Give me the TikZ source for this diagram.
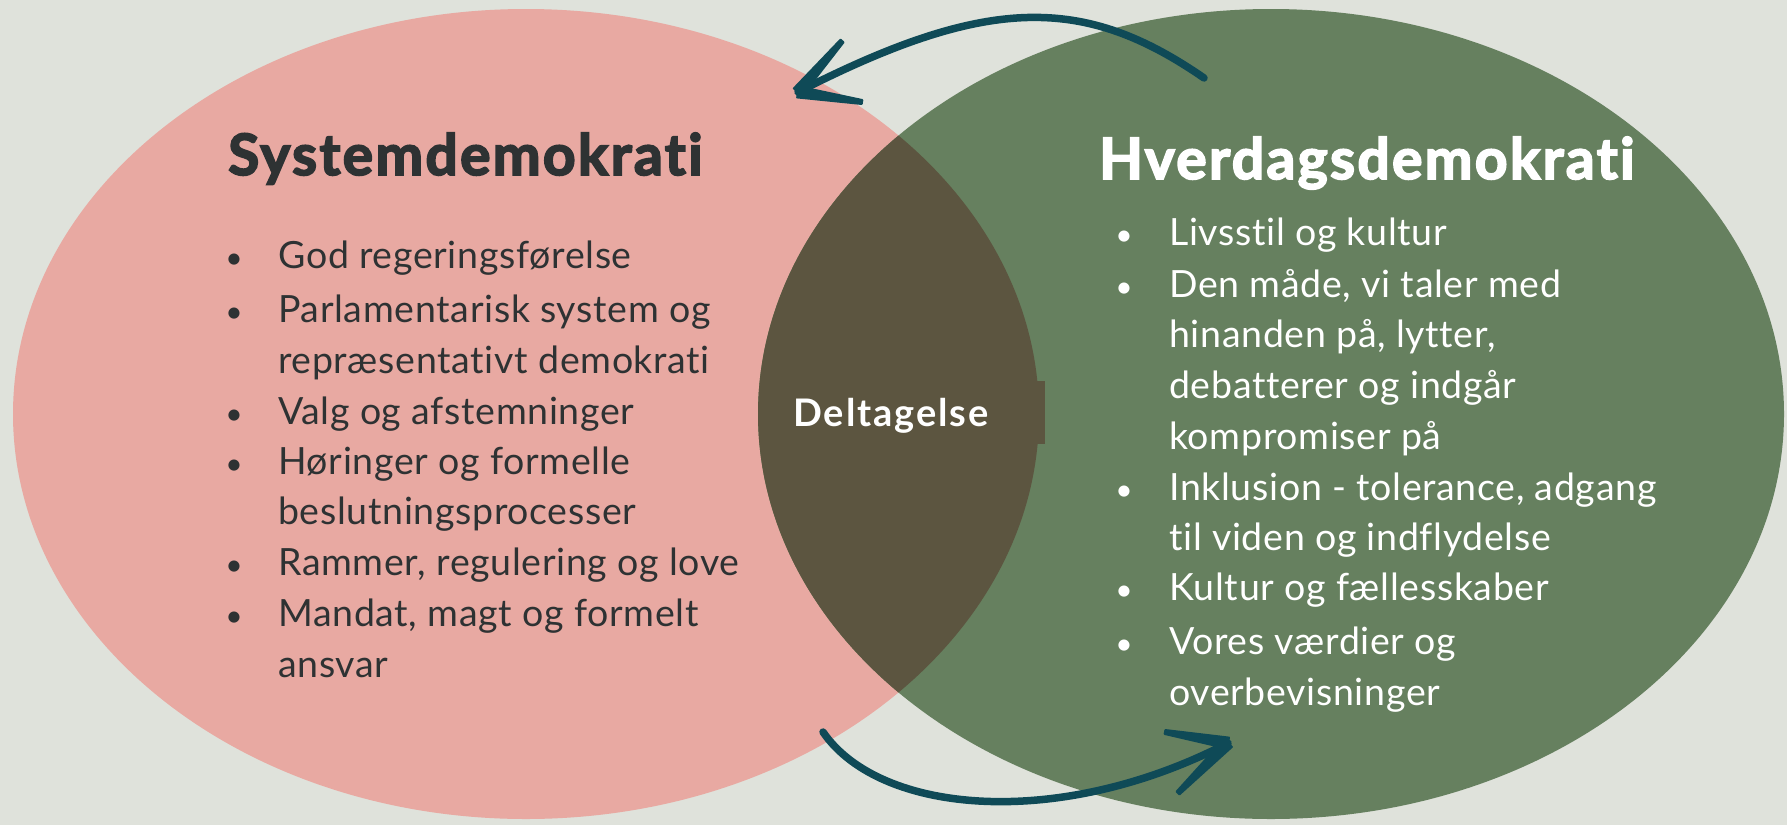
\documentclass[tikz,border=0pt]{standalone}
\usepackage{fontspec}
\usetikzlibrary{calc}
\setmainfont{Lato}[Ligatures=NoCommon]
\newfontfamily\bodyfont{Lato}[LetterSpace=1.8, Ligatures=NoCommon]
\newfontfamily\deltfont{Lato}[LetterSpace=5, Ligatures=NoCommon]
\newfontfamily\titlefont{Lato}[LetterSpace=4, Ligatures=NoCommon, BoldFeatures={FakeBold=3}]
\definecolor{bgc}{HTML}{DFE2DB}
\definecolor{pinkc}{HTML}{E8A9A2}
\definecolor{greenc}{HTML}{66805F}
\definecolor{overlapc}{HTML}{5C5540}
\definecolor{arrowc}{HTML}{0F4A57}
\definecolor{txtdark}{HTML}{2E3233}
\begin{document}
\begin{tikzpicture}[x=1pt,y=-1pt,
  titlestyle/.style={anchor=base west, inner sep=0pt, font=\titlefont\fontsize{57}{60}\selectfont\bfseries},
  itemL/.style={anchor=base west, inner sep=0pt, font=\bodyfont\fontsize{37.5}{42}\selectfont, text=txtdark},
  itemR/.style={anchor=base west, inner sep=0pt, font=\bodyfont\fontsize{37.5}{42}\selectfont, text=white},
  bulL/.style={anchor=base, inner sep=0pt, font=\fontsize{30}{36}\selectfont, text=txtdark},
  bulR/.style={anchor=base, inner sep=0pt, font=\fontsize{30}{36}\selectfont, text=white},
  arrowline/.style={draw=arrowc, line width=7.5pt, line cap=round, line join=round},
  barb/.style={fill=arrowc, draw=arrowc, line width=2pt, line join=round},
]
\useasboundingbox (0,0) rectangle (1787,825);
\fill[bgc] (0,0) rectangle (1787,825);
% circles
\fill[pinkc] (526,414) ellipse [x radius=513pt, y radius=405pt];
\fill[greenc] (1271,414) ellipse [x radius=513pt, y radius=405pt];
\begin{scope}
  \clip (526,414) ellipse [x radius=513pt, y radius=405pt];
  \fill[overlapc] (1271,414) ellipse [x radius=513pt, y radius=405pt];
\end{scope}
\fill[overlapc] (1030,381) rectangle (1045,444);
% titles
\node[titlestyle, text=txtdark] (tsys) at (228,175) {Systemdemokrati};
\node[titlestyle, text=white] (thv) at (1099,179) {Hverdagsdemokrati};
\node[anchor=base, inner sep=0pt, text=white, font=\deltfont\fontsize{38}{42}\selectfont\bfseries] (delt) at (891,426) {Deltagelse};
% left list
\node[bulL] (lb1) at (234,268) {•};
\node[itemL] (l1) at (278,268) {God regeringsførelse};
\node[bulL] (lb2) at (234,322) {•};
\node[itemL] (l2) at (278,322) {Parlamentarisk system og};
\node[itemL] (l3) at (278,373) {repræsentativt demokrati};
\node[bulL] (lb3) at (234,424) {•};
\node[itemL] (l4) at (278,424) {Valg og afstemninger};
\node[bulL] (lb4) at (234,474) {•};
\node[itemL] (l5) at (278,474) {Høringer og formelle};
\node[itemL] (l6) at (278,524) {beslutningsprocesser};
\node[bulL] (lb5) at (234,575) {•};
\node[itemL] (l7) at (278,575) {Rammer, regulering og love};
\node[bulL] (lb6) at (234,626) {•};
\node[itemL] (l8) at (278,626) {Mandat, magt og formelt};
\node[itemL] (l9) at (278,677) {ansvar};
% right list
\node[bulR] (rb1) at (1124,245) {•};
\node[itemR] (r1) at (1169,245) {Livsstil og kultur};
\node[bulR] (rb2) at (1124,297) {•};
\node[itemR] (r2) at (1169,297) {Den måde, vi taler med};
\node[itemR] (r3) at (1169,347) {hinanden på, lytter,};
\node[itemR] (r4) at (1169,398) {debatterer og indgår};
\node[itemR] (r5) at (1169,449) {kompromiser på};
\node[bulR] (rb3) at (1124,500) {•};
\node[itemR] (r6) at (1169,500) {Inklusion - tolerance, adgang};
\node[itemR] (r7) at (1169,550) {til viden og indflydelse};
\node[bulR] (rb4) at (1124,600) {•};
\node[itemR] (r8) at (1169,600) {Kultur og fællesskaber};
\node[bulR] (rb5) at (1124,654) {•};
\node[itemR] (r9) at (1169,654) {Vores værdier og};
\node[itemR] (r10) at (1169,705) {overbevisninger};
% top arrow
\coordinate (ta0) at (1204,78);
\coordinate (tac1) at (1084,-5);
\coordinate (tac2) at (988,-5);
\coordinate (tatip) at (798,92);
\coordinate (tab1) at (842,41);
\coordinate (tab2) at (862,102);
\draw[arrowline] (ta0) .. controls (tac1) and (tac2) .. (tatip);
\fill[barb] ($(tatip)!5.5pt!90:(tab1)$) -- ($(tab1)!2pt!-90:(tatip)$) -- ($(tab1)!2pt!90:(tatip)$) -- ($(tatip)!5.5pt!-90:(tab1)$) -- cycle;
\fill[barb] ($(tatip)!5.5pt!90:(tab2)$) -- ($(tab2)!2pt!-90:(tatip)$) -- ($(tab2)!2pt!90:(tatip)$) -- ($(tatip)!5.5pt!-90:(tab2)$) -- cycle;
% bottom arrow
\coordinate (ba0) at (823,732);
\coordinate (bac1) at (880,815);
\coordinate (bac2) at (1060,830);
\coordinate (batip) at (1228,743);
\coordinate (bab1) at (1165,732);
\coordinate (bab2) at (1178,793);
\draw[arrowline] (ba0) .. controls (bac1) and (bac2) .. (batip);
\fill[barb] ($(batip)!5.5pt!90:(bab1)$) -- ($(bab1)!2pt!-90:(batip)$) -- ($(bab1)!2pt!90:(batip)$) -- ($(batip)!5.5pt!-90:(bab1)$) -- cycle;
\fill[barb] ($(batip)!5.5pt!90:(bab2)$) -- ($(bab2)!2pt!-90:(batip)$) -- ($(bab2)!2pt!90:(batip)$) -- ($(batip)!5.5pt!-90:(bab2)$) -- cycle;
\end{tikzpicture}
\end{document}
